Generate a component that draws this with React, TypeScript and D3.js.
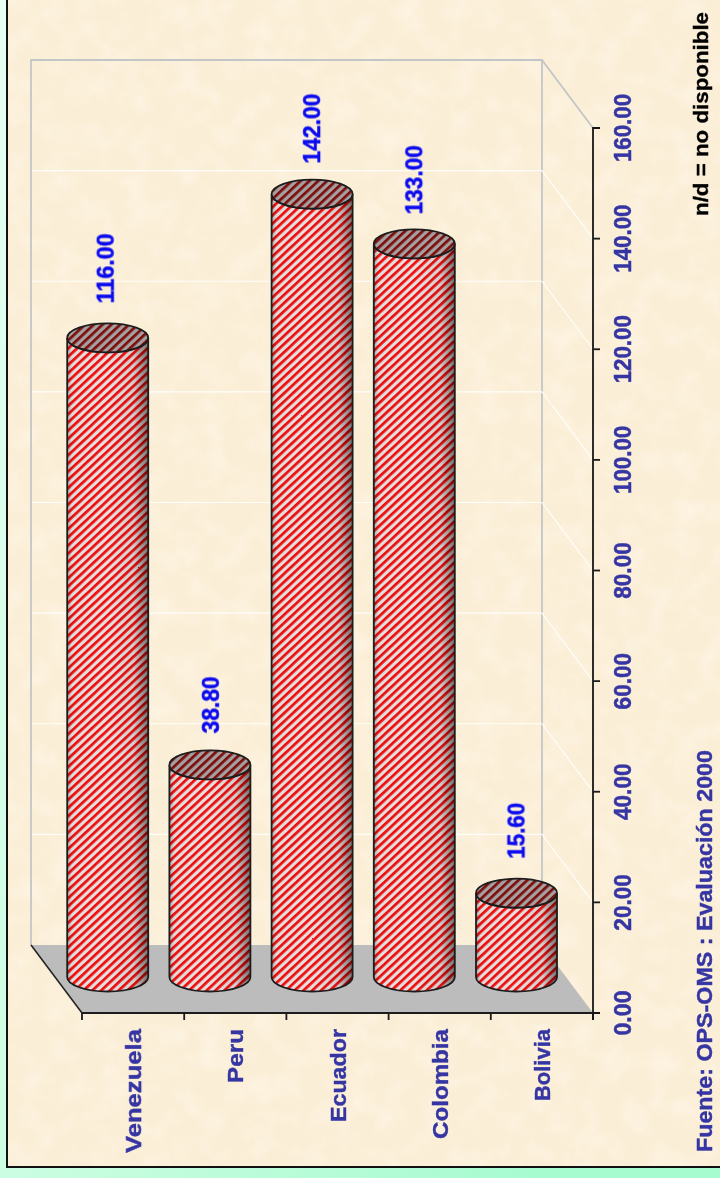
import React from "react";
import * as d3 from "d3";

const categories = ["Venezuela", "Peru", "Ecuador", "Colombia", "Bolivia"];
const values = [116, 38.8, 142, 133, 15.6];
const valueLabels = ["116.00", "38.80", "142.00", "133.00", "15.60"];
const axisTicks = [0, 20, 40, 60, 80, 100, 120, 140, 160];
const sourceText = "Fuente: OPS-OMS : Evaluación 2000";
const noteText = "n/d = no disponible";

// drawn lengths of the stretched labels in the picture
const categoryLengths = [124, 54, 93, 110, 72];
const valueLabelLengths = [70, 57, 70, 69, 56];
const labelShiftX = [-2, 1, 0, 0, 0];
const labelGap = [20, 17, 16, 15, 20];

const W = 720, H = 1178;
const x = d3.scaleBand<string>().domain(categories).range([82, 593]).padding(0);
const y = d3.scaleLinear().domain([0, 160]).range([1013, 128]);
const depthX = 51, depthY = 68;
const cylShift = 25.4, cylBaseLift = 36, cylTopLift = 33.5, cylW = 81, ry = 14.5;
const font = "'Liberation Sans', Arial, sans-serif";
const navy = "#3535a3";

export default function App() {
  const x0 = x.range()[0], x1 = x.range()[1];
  const tickEdges = [...categories.map((c) => x(c) as number), x1];
  return (
    <svg width={W} height={H} viewBox={`0 0 ${W} ${H}`} style={{ position: "absolute", left: 0, top: 0, display: "block" }}>
      <defs>
        <linearGradient id="mint" x1="0" y1="0" x2="1" y2="0.6">
          <stop offset="0" stopColor="#e6fff3" />
          <stop offset="0.5" stopColor="#c8fde0" />
          <stop offset="1" stopColor="#a6fbcf" />
        </linearGradient>
        <filter id="paper" x="0" y="0" width="100%" height="100%">
          <feTurbulence type="fractalNoise" baseFrequency="0.04" numOctaves="4" seed="7" />
          <feColorMatrix type="matrix" values="0 0 0 0 1  0 0 0 0 0.975  0 0 0 0 0.91  1.5 0 0 0 -0.62" />
        </filter>
        <pattern id="hatch" width="6" height="6" patternUnits="userSpaceOnUse" patternTransform="rotate(-43)">
          <rect width="6" height="6" fill="#e6e0e0" />
          <rect width="6" height="2.7" fill="#f00808" />
        </pattern>
        <pattern id="hatchDark" width="6" height="6" patternUnits="userSpaceOnUse" patternTransform="rotate(-43)">
          <rect width="6" height="6" fill="#a4a0a0" />
          <rect width="6" height="2.7" fill="#7c0c0c" />
        </pattern>
        <linearGradient id="shade" x1="0" y1="0" x2="1" y2="0">
          <stop offset="0" stopColor="#000" stopOpacity="0.25" />
          <stop offset="0.06" stopColor="#000" stopOpacity="0.02" />
          <stop offset="0.5" stopColor="#000" stopOpacity="0" />
          <stop offset="0.82" stopColor="#000" stopOpacity="0.08" />
          <stop offset="1" stopColor="#000" stopOpacity="0.5" />
        </linearGradient>
        <filter id="soft" x="-5%" y="-5%" width="110%" height="110%">
          <feGaussianBlur stdDeviation="0.4" />
        </filter>
      </defs>

      <rect width={W} height={H} fill="url(#mint)" />
      <rect x={7} y={-3} width={W} height={1170} fill="#fbeed6" stroke="#111" strokeWidth={2} />
      <rect x={8} y={0} width={W - 8} height={1166} fill="#fff" filter="url(#paper)" opacity={0.55} />

      <g filter="url(#soft)">
        {/* floor */}
        <polygon
          points={`${x0 - depthX},${y(0) - depthY} ${x1 - depthX},${y(0) - depthY} ${x1},${y(0)} ${x0},${y(0)}`}
          fill="#bcbcbc"
        />
        {/* walls */}
        <g fill="none" stroke="#c3c6c8" strokeWidth={1.8}>
          <path d={`M${x0 - depthX},${y(0) - depthY} V${y(160) - depthY} H${x1 - depthX} V${y(0) - depthY}`} />
          <path d={`M${x1 - depthX},${y(160) - depthY} L${x1},${y(160)}`} />
        </g>
        {/* gridlines */}
        <g stroke="#fff" strokeWidth={1.2} opacity={0.9}>
          {axisTicks.slice(1, -1).map((t) => (
            <path key={t} fill="none" d={`M${x0 - depthX + 1},${y(t) - depthY} H${x1 - depthX} L${x1},${y(t)}`} />
          ))}
        </g>
        <path d={`M${x0 - depthX},${y(0) - depthY} L${x0},${y(0)}`} stroke="#222" strokeWidth={1.5} fill="none" />

        {/* cylinders */}
        {categories.map((c, i) => {
          const cx = (x(c) as number) + x.bandwidth() / 2 - cylShift;
          const rx = cylW / 2;
          const base = y(0) - cylBaseLift;
          const top = y(values[i]) - cylTopLift;
          const side = `M${cx - rx},${top} V${base} A${rx},${ry} 0 0 0 ${cx + rx},${base} V${top} A${rx},${ry} 0 0 1 ${cx - rx},${top} Z`;
          return (
            <g key={c}>
              <path d={side} fill="url(#hatch)" />
              <path d={side} fill="url(#shade)" />
              <path d={side} fill="none" stroke="#1c1c1c" strokeWidth={1.8} />
              <ellipse cx={cx} cy={top} rx={rx} ry={ry} fill="url(#hatchDark)" stroke="#1c1c1c" strokeWidth={1.8} />
            </g>
          );
        })}

        {/* axes */}
        <g stroke="#1a1a1a" strokeWidth={1.8} fill="none">
          <path d={`M${x0},${y(0)} H${x1 + 7}`} />
          <path d={`M${x1},${y(0) + 7} V${y(160)} H${x1 + 7}`} />
          {tickEdges.map((t) => (
            <path key={t} d={`M${t},${y(0)} V${y(0) + 7}`} />
          ))}
          {axisTicks.map((t) => (
            <path key={t} d={`M${x1},${y(t)} H${x1 + 7}`} />
          ))}
        </g>
      </g>

      <g style={{ filter: "blur(0.25px)" }}>
        {categories.map((c, i) => {
          const cx = (x(c) as number) + x.bandwidth() / 2 - cylShift;
          const top = y(values[i]) - cylTopLift;
          return (
            <text
              key={c}
              transform={`translate(${cx + 8 + labelShiftX[i]},${top - ry - labelGap[i]}) rotate(-90)`}
              fontFamily={font}
              fontWeight={700}
              fontSize={23}
              fill="#0a0af0"
              stroke="#0a0af0"
              strokeWidth={0.5}
              textLength={valueLabelLengths[i]}
              lengthAdjust="spacingAndGlyphs"
            >
              {valueLabels[i]}
            </text>
          );
        })}
        {axisTicks.map((t) => {
          const label = d3.format(".2f")(t);
          return (
            <text
              key={t}
              transform={`translate(631,${y(t)}) rotate(-90)`}
              textAnchor="middle"
              fontFamily={font}
              fontWeight={700}
              fontSize={23}
              fill={navy}
              stroke={navy}
              strokeWidth={0.5}
              textLength={label.length * 11.5 - 1}
              lengthAdjust="spacingAndGlyphs"
            >
              {label}
            </text>
          );
        })}
        {categories.map((c, i) => (
          <text
            key={c}
            transform={`translate(${(x(c) as number) + x.bandwidth() / 2 + 8},${1029 + categoryLengths[i]}) rotate(-90)`}
            fontFamily={font}
            fontWeight={700}
            fontSize={22}
            fill={navy}
            stroke={navy}
            strokeWidth={0.4}
            textLength={categoryLengths[i]}
            lengthAdjust="spacingAndGlyphs"
          >
            {c}
          </text>
        ))}
        <text transform="translate(712,1152) rotate(-90)" fontFamily={font} fontWeight={700} fontSize={22} fill={navy} stroke={navy} strokeWidth={0.4} textLength={402} lengthAdjust="spacingAndGlyphs">
          {sourceText}
        </text>
        <text transform="translate(708,216) rotate(-90)" fontFamily={font} fontWeight={700} fontSize={20} fill="#000" stroke="#000" strokeWidth={0.3} textLength={204} lengthAdjust="spacingAndGlyphs">
          {noteText}
        </text>
      </g>
    </svg>
  );
}
